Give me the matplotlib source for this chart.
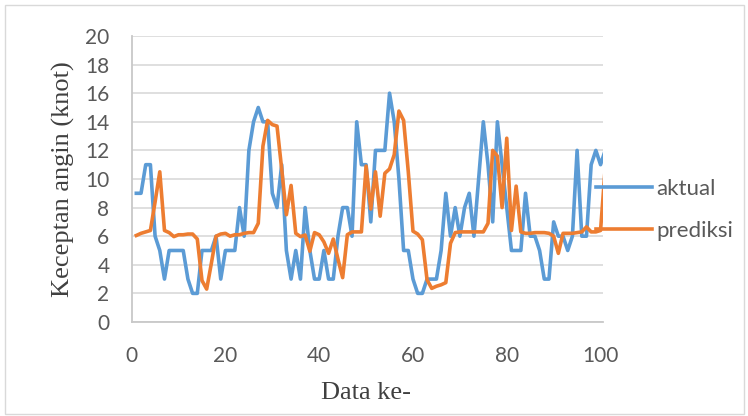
import matplotlib
matplotlib.use("Agg")
import matplotlib.pyplot as plt
from matplotlib.patches import Rectangle

# data ke- 1..101 (the last point is cut by the axis at 100)
data_ke = list(range(1, 102))

aktual = [9, 9, 11, 11, 6, 5, 3, 5, 5, 5,
          5, 3, 2, 2, 5, 5, 5, 6, 3, 5,
          5, 5, 8, 6, 12, 14, 15, 14, 14, 9,
          8, 11, 5, 3, 5, 3, 8, 5, 3, 3,
          5, 3, 3, 6, 8, 8, 6, 14, 11, 11,
          7, 12, 12, 12, 16, 14, 10, 5, 5, 3,
          2, 2, 3, 3, 3, 5, 9, 6, 8, 6,
          8, 9, 6, 10, 14, 11, 7, 14, 11, 8,
          5, 5, 5, 9, 6, 6, 5, 3, 3, 7,
          6, 6, 5, 6, 12, 6, 6, 11, 12, 11,
          12]

prediksi = [6.05, 6.2, 6.3, 6.4, 8.4, 10.5, 6.4, 6.25, 5.97, 6.1,
            6.1, 6.15, 6.15, 5.8, 2.9, 2.3, 4.1, 6.0, 6.15, 6.2,
            6.0, 6.1, 6.1, 6.2, 6.25, 6.25, 6.9, 12.3, 14.1, 13.8,
            13.7, 10.7, 7.5, 9.55, 6.2, 5.97, 6.08, 4.95, 6.25, 6.1,
            5.6, 4.8, 5.8, 4.4, 3.1, 6.1, 6.3, 6.3, 6.3, 10.9,
            7.9, 10.5, 7.4, 10.4, 10.7, 11.7, 14.75, 14.1, 10.5, 6.35,
            6.15, 5.75, 2.95, 2.35, 2.5, 2.6, 2.75, 5.5, 6.25, 6.3,
            6.3, 6.3, 6.3, 6.3, 6.3, 6.9, 12.0, 11.6, 8.0, 12.85,
            6.4, 9.5, 6.3, 6.2, 6.2, 6.25, 6.25, 6.25, 6.2, 6.0,
            4.8, 6.2, 6.2, 6.2, 6.25, 6.3, 6.65, 6.3, 6.3, 6.4,
            10.8]

y_ticks = list(range(0, 21, 2))
x_ticks = [0, 20, 40, 60, 80, 100]

biru = '#5B9BD5'
oranye = '#ED7D31'
abu = '#595959'

fig = plt.figure(figsize=(7.48, 4.16), dpi=100)
ax = fig.add_axes([0.176, 0.226, 0.630, 0.6875])

ax.plot(data_ke, aktual, color=biru, lw=2.6, label='aktual')
ax.plot(data_ke, prediksi, color=oranye, lw=2.6, label='prediksi')

ax.set_xlim(0, 100.5)
ax.set_ylim(0, 20)
ax.set_xticks(x_ticks)
ax.set_yticks(y_ticks)
ax.tick_params(axis='both', length=0, labelsize=15, labelcolor=abu)
ax.tick_params(axis='y', pad=16)
ax.tick_params(axis='x', pad=17)
for lbl in ax.get_xticklabels() + ax.get_yticklabels():
    lbl.set_fontfamily('Lato')

ax.grid(axis='y', color='#d9d9d9', lw=1.2)
ax.set_axisbelow(True)
for s in ['top', 'right']:
    ax.spines[s].set_visible(False)
for s in ['left', 'bottom']:
    ax.spines[s].set_color('#c8c8c8')
    ax.spines[s].set_linewidth(1.3)

ax.set_ylabel('Keceptan angin (knot)', fontsize=19, family='Liberation Serif', color='#404040')
ax.yaxis.set_label_coords(-0.12, 0.5)
ax.set_xlabel('Data ke-', fontsize=19, family='Liberation Serif', color='#404040', va='center')
ax.xaxis.set_label_coords(0.497, -0.248)

leg = ax.legend(loc='center left', bbox_to_anchor=(0.797, 0.495), bbox_transform=fig.transFigure,
                frameon=False, handlelength=2.5, handletextpad=0.2, labelspacing=1.0,
                borderpad=0, borderaxespad=0, prop={'family': 'Lato', 'size': 16})
for t in leg.get_texts():
    t.set_color(abu)
for h in leg.get_lines():
    h.set_linewidth(2.6)

fig.patches.append(Rectangle((5 / 748, 2 / 416), 739 / 748, 409 / 416, transform=fig.transFigure,
                             fill=False, ec='#d9d9d9', lw=1))

fig.savefig('out.png', dpi=100)
